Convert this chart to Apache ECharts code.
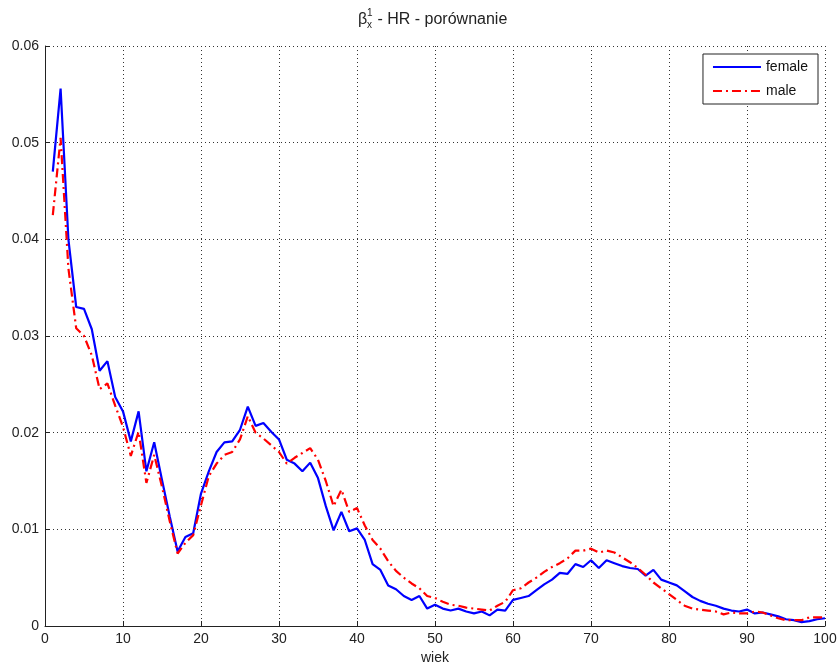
<!DOCTYPE html>
<html>
<head>
<meta charset="utf-8">
<script src="https://cdn.jsdelivr.net/npm/echarts@6/dist/echarts.min.js"></script>
<style>
  html, body { margin: 0; padding: 0; background: #fff; }
  #chart { width: 838px; height: 665px; }
</style>
</head>
<body>
<div id="chart"></div>
<script>
// Age (years)
const ages = [
  1, 2, 3, 4, 5, 6, 7, 8, 9, 10,
  11, 12, 13, 14, 15, 16, 17, 18, 19, 20,
  21, 22, 23, 24, 25, 26, 27, 28, 29, 30,
  31, 32, 33, 34, 35, 36, 37, 38, 39, 40,
  41, 42, 43, 44, 45, 46, 47, 48, 49, 50,
  51, 52, 53, 54, 55, 56, 57, 58, 59, 60,
  61, 62, 63, 64, 65, 66, 67, 68, 69, 70,
  71, 72, 73, 74, 75, 76, 77, 78, 79, 80,
  81, 82, 83, 84, 85, 86, 87, 88, 89, 90,
  91, 92, 93, 94, 95, 96, 97, 98, 99, 100
];

// beta_x^1 estimates, Lee-Carter HR model
const female = [
  0.0470, 0.0556, 0.0400, 0.0330, 0.0328, 0.0307, 0.0264, 0.0274, 0.0237, 0.0222,
  0.0191, 0.0222, 0.0160, 0.0190, 0.0151, 0.0113, 0.0077, 0.0092, 0.0096, 0.0137,
  0.0160, 0.0180, 0.0190, 0.0191, 0.0203, 0.0227, 0.0207, 0.0210, 0.0201, 0.0193,
  0.0172, 0.0168, 0.0160, 0.0169, 0.0153, 0.0124, 0.0099, 0.0118, 0.0098, 0.0101,
  0.0089, 0.0064, 0.0058, 0.0042, 0.0038, 0.0031, 0.0027, 0.0031, 0.0018, 0.0022,
  0.0018, 0.0016, 0.0018, 0.0015, 0.0013, 0.0015, 0.0011, 0.0017, 0.0016, 0.0027,
  0.0029, 0.0031, 0.0037, 0.0043, 0.0048, 0.0055, 0.0054, 0.0064, 0.0061, 0.0068,
  0.0060, 0.0068, 0.0065, 0.0062, 0.0060, 0.0059, 0.0052, 0.0058, 0.0048, 0.0045,
  0.0042, 0.0036, 0.0030, 0.0026, 0.0023, 0.0021, 0.0018, 0.0016, 0.0015, 0.0017,
  0.0013, 0.0014, 0.0012, 0.0010, 0.0007, 0.0006, 0.0004, 0.0005, 0.0007, 0.0008
];

const male = [
  0.0425, 0.0505, 0.0370, 0.0308, 0.0300, 0.0280, 0.0245, 0.0251, 0.0228, 0.0206,
  0.0176, 0.0201, 0.0148, 0.0177, 0.0144, 0.0108, 0.0075, 0.0086, 0.0094, 0.0125,
  0.0155, 0.0168, 0.0177, 0.0180, 0.0193, 0.0217, 0.0200, 0.0194, 0.0187, 0.0180,
  0.0168, 0.0174, 0.0179, 0.0184, 0.0172, 0.0150, 0.0124, 0.0141, 0.0118, 0.0122,
  0.0104, 0.0089, 0.0080, 0.0067, 0.0057, 0.0050, 0.0044, 0.0039, 0.0031, 0.0029,
  0.0025, 0.0022, 0.0021, 0.0019, 0.0018, 0.0017, 0.0016, 0.0021, 0.0025, 0.0037,
  0.0039, 0.0045, 0.0050, 0.0056, 0.0061, 0.0065, 0.0070, 0.0078, 0.0078, 0.0080,
  0.0076, 0.0078, 0.0076, 0.0071, 0.0066, 0.0060, 0.0053, 0.0045, 0.0039, 0.0033,
  0.0027, 0.0021, 0.0018, 0.0017, 0.0016, 0.0015, 0.0012, 0.0014, 0.0013, 0.0013,
  0.0015, 0.0014, 0.0011, 0.0008, 0.0006, 0.0006, 0.0006, 0.0009, 0.0009, 0.0009
];

const yTickLabels = ['0', '0.01', '0.02', '0.03', '0.04', '0.05', '0.06'];

const FONT = "'Liberation Sans', Arial, Helvetica, sans-serif";

const pairs = (vals) => ages.map((a, i) => [a, vals[i]]);

const chart = echarts.init(document.getElementById('chart'), null, { renderer: 'canvas' });

const gridLine = { show: true, lineStyle: { color: '#333', width: 1, type: [1, 3] } };

chart.setOption({
  animation: false,
  backgroundColor: '#fff',
  textStyle: { fontFamily: FONT },
  grid: {
    left: 45, right: 13, top: 46, bottom: 39,
    containLabel: false,
    outerBoundsMode: 'none'
  },
  graphic: [
    {
      type: 'group',
      left: 358,
      top: 8,
      children: [
        { type: 'text', x: 0, y: 8, style: { text: 'β', font: '16px ' + FONT, fill: '#222' } },
        { type: 'text', x: 9, y: 4, style: { text: '1', font: '10px ' + FONT, fill: '#222' } },
        { type: 'text', x: 9, y: 16, style: { text: 'x', font: '10px ' + FONT, fill: '#222' } },
        { type: 'text', x: 15, y: 8, style: { text: ' - HR - porównanie', font: '16px ' + FONT, fill: '#222' } }
      ]
    }
  ],
  legend: {
    right: 20,
    top: 54,
    orient: 'vertical',
    backgroundColor: '#fff',
    borderColor: '#222',
    borderWidth: 1,
    borderRadius: 0,
    padding: [6, 10, 6, 9],
    itemWidth: 48,
    itemHeight: 14,
    itemGap: 10,
    itemStyle: { opacity: 0 },
    textStyle: { fontSize: 14, color: '#111', fontFamily: FONT },
    data: ['female', 'male']
  },
  xAxis: {
    type: 'value',
    min: 0,
    max: 100,
    interval: 10,
    name: 'wiek',
    nameLocation: 'middle',
    nameGap: 25,
    nameTextStyle: { fontSize: 14, color: '#222' },
    axisLine: { show: true, onZero: false, lineStyle: { color: '#222', width: 1 } },
    axisTick: { show: true, inside: true, length: 5, lineStyle: { color: '#222' } },
    axisLabel: { fontSize: 14, color: '#222', margin: 6 },
    splitLine: gridLine
  },
  yAxis: {
    type: 'value',
    min: 0,
    max: 0.06,
    interval: 0.01,
    axisLine: { show: true, lineStyle: { color: '#222', width: 1 } },
    axisTick: { show: true, inside: true, length: 5, lineStyle: { color: '#222' } },
    axisLabel: {
      fontSize: 14,
      color: '#222',
      margin: 6,
      formatter: (v) => yTickLabels[Math.round(v * 100)]
    },
    splitLine: gridLine
  },
  series: [
    {
      name: 'female',
      type: 'line',
      data: pairs(female),
      showSymbol: false,
      symbol: 'none',
      lineStyle: { color: '#0000ff', width: 2.2 },
      itemStyle: { color: '#0000ff' },
      z: 3
    },
    {
      name: 'male',
      type: 'line',
      data: pairs(male),
      showSymbol: false,
      symbol: 'none',
      lineStyle: { color: '#ff0000', width: 2.2, type: [9, 4, 2, 4] },
      itemStyle: { color: '#ff0000' },
      z: 4
    }
  ]
});
</script>
</body>
</html>
